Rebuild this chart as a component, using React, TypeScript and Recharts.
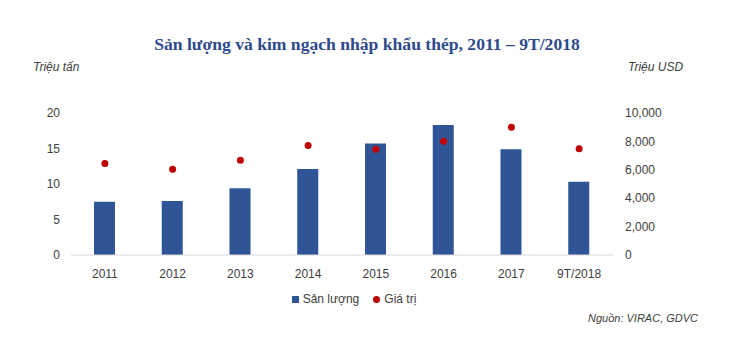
import React from 'react';
import { ComposedChart, Bar, Line, XAxis, YAxis } from 'recharts';

const years = ['2011', '2012', '2013', '2014', '2015', '2016', '2017', '9T/2018'];
const volume = [7.5, 7.6, 9.4, 12.1, 15.7, 18.3, 14.9, 10.3];
const value = [6450, 6030, 6670, 7720, 7440, 8010, 8990, 7490];
const leftTicks = [0, 5, 10, 15, 20];
const rightTicks = [0, 2000, 4000, 6000, 8000, 10000];

const BAR = '#2F5597';
const DOT = '#C00000';
const FONT = '"Liberation Sans", Arial, sans-serif';

const data = years.map((year, i) => ({ year, volume: volume[i], value: value[i] }));

const tickStyle = { fontSize: 12, fill: '#404040', fontFamily: FONT };

const LegendBox = () => (
  <div
    style={{
      position: 'absolute',
      top: 292,
      left: 0,
      width: 734,
      display: 'flex',
      justifyContent: 'center',
      fontFamily: FONT,
      fontSize: 12,
      color: '#404040',
    }}
  >
    <div style={{ display: 'flex', alignItems: 'center', marginLeft: -26 }}>
      <span style={{ width: 7, height: 7, background: BAR, display: 'inline-block', marginRight: 4 }} />
      <span>Sản lượng</span>
      <span
        style={{
          width: 7,
          height: 7,
          borderRadius: '50%',
          background: DOT,
          display: 'inline-block',
          marginLeft: 14,
          marginRight: 4,
        }}
      />
      <span>Giá trị</span>
    </div>
  </div>
);

export default function App() {
  return (
    <div style={{ position: 'absolute', left: 0, top: 0, width: 734, height: 351, background: '#fff' }}>
      <div
        style={{
          position: 'absolute',
          top: 34,
          left: 0,
          width: 734,
          textAlign: 'center',
          fontFamily: '"Liberation Serif", "Times New Roman", serif',
          fontWeight: 'bold',
          fontSize: 17.6,
          color: '#2E4A8C',
        }}
      >
        Sản lượng và kim ngạch nhập khẩu thép, 2011 – 9T/2018
      </div>
      <div style={{ position: 'absolute', top: 60, left: 33, fontFamily: FONT, fontStyle: 'italic', fontSize: 12, color: '#404040' }}>
        Triệu tấn
      </div>
      <div style={{ position: 'absolute', top: 60, left: 628, fontFamily: FONT, fontStyle: 'italic', fontSize: 12, color: '#404040' }}>
        Triệu USD
      </div>
      <ComposedChart
        width={734}
        height={351}
        data={data}
        margin={{ top: 113, right: 0, bottom: 66, left: 0 }}
      >
        <XAxis
          dataKey="year"
          height={30}
          axisLine={{ stroke: '#d9d9d9' }}
          tickLine={false}
          tick={tickStyle}
          tickMargin={8}
          interval={0}
        />
        <YAxis
          yAxisId="left"
          width={71}
          domain={[0, 20]}
          ticks={leftTicks}
          axisLine={false}
          tickLine={false}
          tick={tickStyle}
          tickMargin={5}
        />
        <YAxis
          yAxisId="right"
          orientation="right"
          width={121}
          domain={[0, 10000]}
          ticks={rightTicks}
          axisLine={false}
          tickLine={false}
          tick={{ ...tickStyle, textAnchor: 'start' }}
          tickMargin={6}
          tickFormatter={(v: number) => v.toLocaleString('en-US')}
        />
        <Bar yAxisId="left" dataKey="volume" fill={BAR} barSize={21} isAnimationActive={false} />
        <Line
          yAxisId="right"
          dataKey="value"
          stroke="none"
          dot={{ r: 3.5, fill: DOT, stroke: 'none' }}
          activeDot={false}
          isAnimationActive={false}
        />
      </ComposedChart>
      <LegendBox />
      <div
        style={{
          position: 'absolute',
          top: 312,
          left: 588,
          fontFamily: FONT,
          fontStyle: 'italic',
          fontSize: 11,
          color: '#404040',
        }}
      >
        Nguồn: VIRAC, GDVC
      </div>
    </div>
  );
}
